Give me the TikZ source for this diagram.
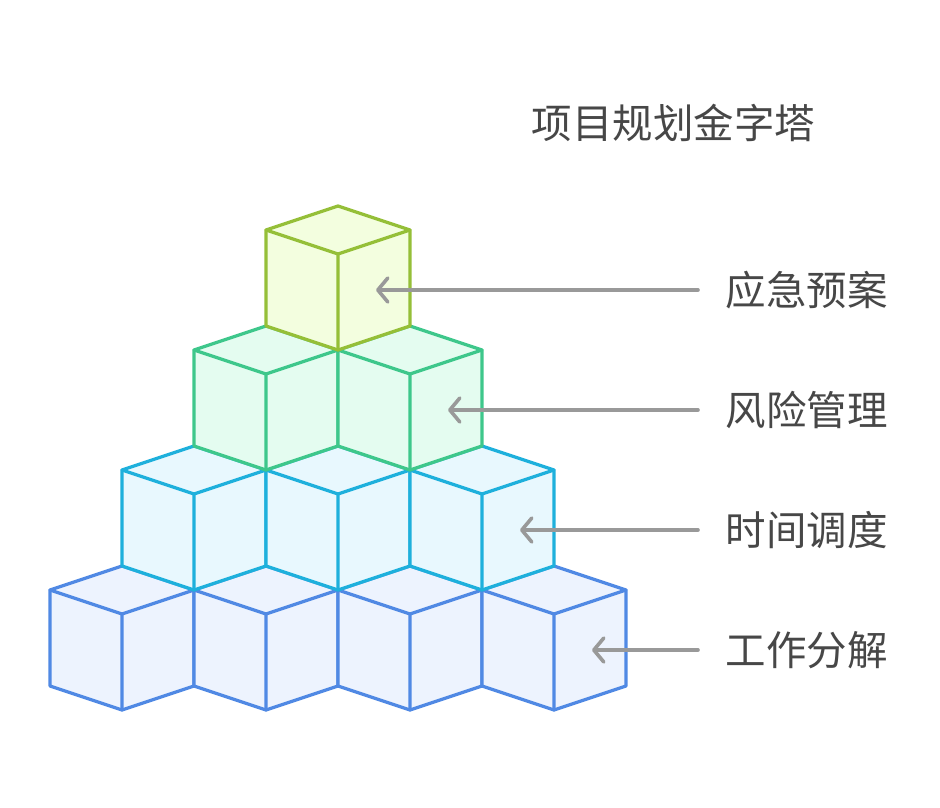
\documentclass[tikz,border=0pt]{standalone}
\usepackage{fontspec}
\newfontfamily\cjk{Noto Sans CJK SC}
\usetikzlibrary{arrows.meta}
\definecolor{bS}{HTML}{5089E4}\definecolor{bF}{HTML}{EDF3FE}
\definecolor{cS}{HTML}{1EB0DC}\definecolor{cF}{HTML}{E8F8FE}
\definecolor{gS}{HTML}{3EC78B}\definecolor{gF}{HTML}{E4FCF0}
\definecolor{yS}{HTML}{95BF38}\definecolor{yF}{HTML}{F3FEDF}
\definecolor{arrC}{HTML}{999999}
\definecolor{txtC}{HTML}{474747}
\newcommand{\mycube}[4]{%
  \filldraw[cubeline,draw=#3,fill=#4] (#1-72,#2+24) -- (#1,#2) -- (#1+72,#2+24) -- (#1+72,#2+120) -- (#1,#2+144) -- (#1-72,#2+120) -- cycle;
  \draw[cubeline,draw=#3] (#1-72,#2+24) -- (#1,#2+48) -- (#1+72,#2+24) (#1,#2+48) -- (#1,#2+144);
}
\tikzset{
  cubeline/.style={line width=3.2pt,line join=round,line cap=round},
  arr/.style={draw=arrC,line width=3.6pt,line cap=round,-{Straight Barb[length=10pt,width=24pt,round]}},
  lbl/.style={anchor=west,inner xsep=27.5pt,inner ysep=0pt,text=txtC,font=\cjk\fontsize{40.5pt}{46pt}\selectfont},
}
\begin{document}
\begin{tikzpicture}[x=1pt,y=-1pt]
\useasboundingbox (0,0) rectangle (940,808);
% bottom row
\mycube{122}{566}{bS}{bF}
\mycube{266}{566}{bS}{bF}
\mycube{410}{566}{bS}{bF}
\mycube{554}{566}{bS}{bF}
% second row
\mycube{194}{446}{cS}{cF}
\mycube{338}{446}{cS}{cF}
\mycube{482}{446}{cS}{cF}
% third row
\mycube{266}{326}{gS}{gF}
\mycube{410}{326}{gS}{gF}
% top
\mycube{338}{206}{yS}{yF}
% title
\node[text=txtC,font=\cjk\fontsize{40.5pt}{46pt}\selectfont,inner sep=0pt] (title) at (673.5,123) {项目规划金字塔};
% labels
\node[lbl] (l4) at (698,290) {应急预案};
\node[lbl] (l3) at (698,410) {风险管理};
\node[lbl] (l2) at (698,530) {时间调度};
\node[lbl] (l1) at (698,650) {工作分解};
\coordinate (t4) at (376,290);
\coordinate (t3) at (448,410);
\coordinate (t2) at (520,530);
\coordinate (t1) at (592,650);
\draw[arr] (l4.west) -- (t4);
\draw[arr] (l3.west) -- (t3);
\draw[arr] (l2.west) -- (t2);
\draw[arr] (l1.west) -- (t1);
\end{tikzpicture}
\end{document}
